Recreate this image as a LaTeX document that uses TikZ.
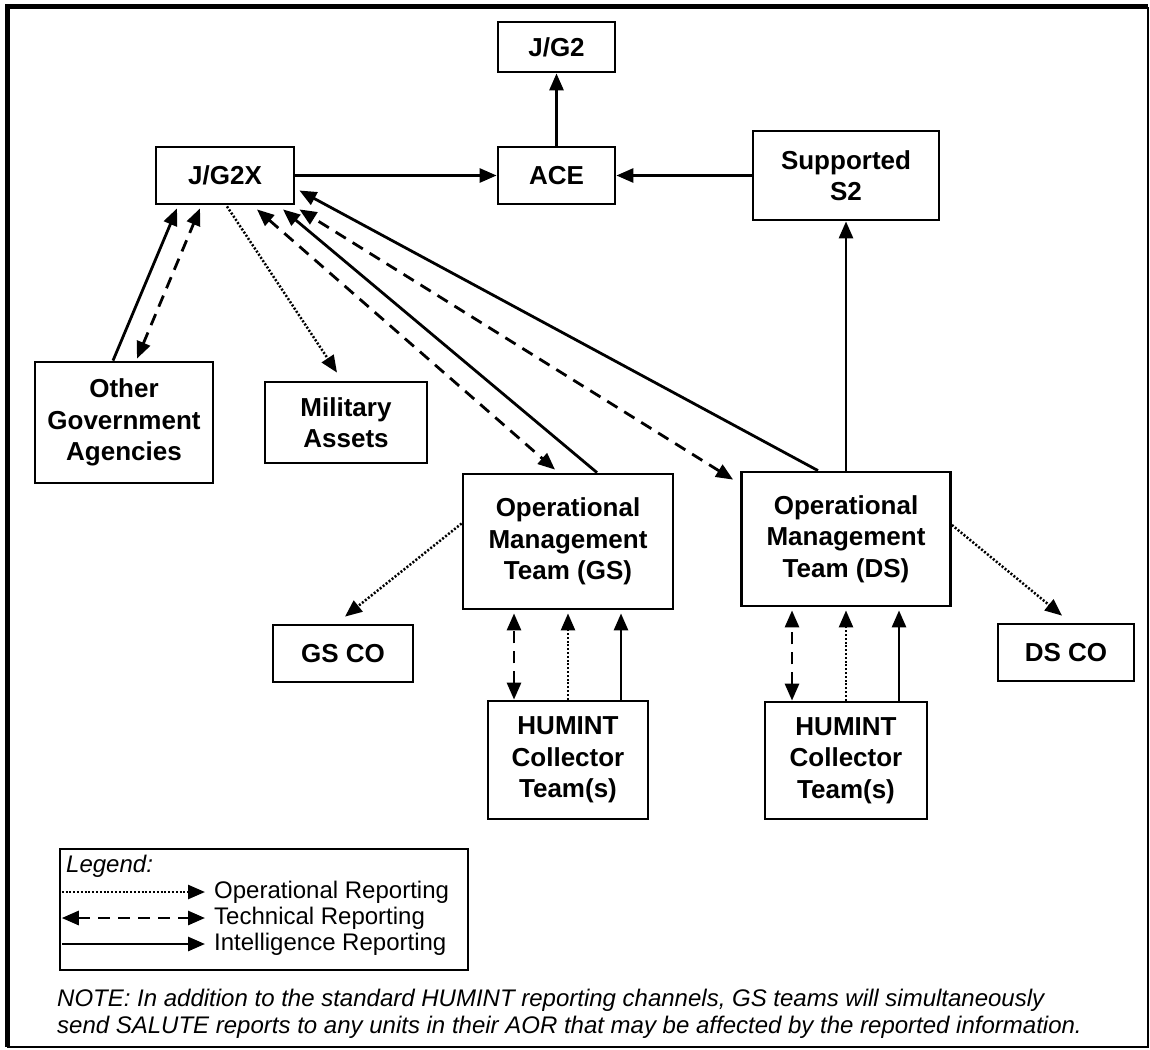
\documentclass[tikz,border=0pt]{standalone}
\usepackage{fontspec}
\setmainfont{Liberation Sans}
\usetikzlibrary{arrows.meta,calc}

\begin{document}
\begin{tikzpicture}[x=1pt,y=-1pt,line join=miter,
% Styles
>={Triangle[length=17pt,width=14pt]},
unit box/.style={draw,line width=2.8pt,align=center,inner sep=0pt,
  font=\bfseries\fontsize{26}{31.5}\selectfont},
intel line/.style={line width=2.8pt,->},
tech line/.style={line width=2.8pt,dash pattern=on 12pt off 8pt,<->},
ops line/.style={line width=2.5pt,dash pattern=on 2pt off 1.8pt,->},
legend text/.style={anchor=west,inner sep=0pt,font=\fontsize{24}{27}\selectfont}]
\useasboundingbox (0,0) rectangle (1150,1049);
% Frame
\draw[line width=2.5pt] (7,1047) -- (1148,1047) -- (1148,7);
\draw[line width=5pt] (7,1047) -- (7,7) -- (1148,7);
% Units
\node[unit box,minimum width=117pt,minimum height=50pt] (jgtwo) at (556.5,47) {J/G2};
\node[unit box,minimum width=138pt,minimum height=57pt] (jgtwox) at (225,175.5) {J/G2X};
\node[unit box,minimum width=117pt,minimum height=57pt] (ace) at (556.5,175.5) {ACE};
\node[unit box,minimum width=186pt,minimum height=89pt] (stwo) at (846,175.5) {Supported\\S2};
\node[unit box,minimum width=178pt,minimum height=121pt] (oga) at (124,422.5) {Other\\Government\\Agencies};
\node[unit box,minimum width=162pt,minimum height=81pt] (milassets) at (346,422.5) {Military\\Assets};
\node[unit box,minimum width=210pt,minimum height=135pt] (omtgs) at (568,541.5) {Operational\\Management\\Team (GS)};
\node[unit box,minimum width=209pt,minimum height=134pt] (omtds) at (846,539) {Operational\\Management\\Team (DS)};
\node[unit box,minimum width=140pt,minimum height=57pt] (gsco) at (343,653.5) {GS CO};
\node[unit box,minimum width=136pt,minimum height=57pt] (dsco) at (1066,652.5) {DS CO};
\node[unit box,minimum width=160pt,minimum height=118pt] (humgs) at (568,760) {HUMINT\\Collector\\Team(s)};
\node[unit box,minimum width=162pt,minimum height=117pt] (humds) at (846,760.5) {HUMINT\\Collector\\Team(s)};
% Reporting channels
\draw[intel line] (jgtwox) -- (ace);
\draw[intel line] (ace) -- (jgtwo);
\draw[intel line] (stwo) -- (ace);
\draw[intel line] (omtds.north -| stwo) -- (stwo);
\draw[intel line] ($(oga.north)+(-11,0)$) -- ($(jgtwox.south)+(-48,3)$);
\draw[tech line] ($(oga.north)+(13,-2)$) -- ($(jgtwox.south)+(-25,3)$);
\draw[ops line] ($(jgtwox.south)+(2,1)$) -- ($(milassets.north)+(-9,-8)$);
\draw[tech line] ($(jgtwox.south)+(32,4)$) -- ($(omtgs.north)+(-13,-3)$);
\draw[intel line] ($(omtgs.north)+(29,0)$) -- ($(jgtwox.south)+(58,4)$);
\draw[tech line] ($(omtds.north west)+(-7,9)$) -- ($(jgtwox.south east)+(4,4)$);
\draw[intel line] ($(omtds.north)+(-28,0)$) -- ($(jgtwox.east)+(4,15)$);
\draw[ops line] ($(omtgs.west)+(0,-18)$) -- ($(gsco.north)+(2,-7)$);
\draw[ops line] ($(omtds.east)+(0,-14)$) -- ($(dsco.north)+(-4,-7)$);
\foreach \team in {gs,ds} {
  \draw[tech line] ($(hum\team.north)+(-54,0)$) -- ($(hum\team.north |- omt\team.south)+(-54,3)$);
  \draw[ops line] (hum\team.north) -- ($(hum\team.north |- omt\team.south)+(0,3)$);
  \draw[intel line] ($(hum\team.north)+(53,0)$) -- ($(hum\team.north |- omt\team.south)+(53,3)$);
}
% Legend
\node[draw,line width=2.5pt,minimum width=408pt,minimum height=121pt,inner sep=0pt] (legend) at (264,909.5) {};
\node[legend text] (legendtitle) at (66,866) {\itshape Legend:};
\foreach \y/\sty/\txt in {892/ops line/Operational Reporting,918/tech line/Technical Reporting,944/intel line/Intelligence Reporting} {
  \node[legend text,inner xsep=9pt] (key\y) at (205,\y) {\txt};
  \draw[\sty] ($(legend.west |- key\y)+(3,0)$) -- (key\y);
}
% Note
\node[anchor=west,align=left,inner sep=0pt,font=\itshape\fontsize{24}{27}\selectfont] (note) at (57,1013.5)
  {NOTE: In addition to the standard HUMINT reporting channels, GS teams will simultaneously\\
   send SALUTE reports to any units in their AOR that may be affected by the reported information.};
\end{tikzpicture}
\end{document}
